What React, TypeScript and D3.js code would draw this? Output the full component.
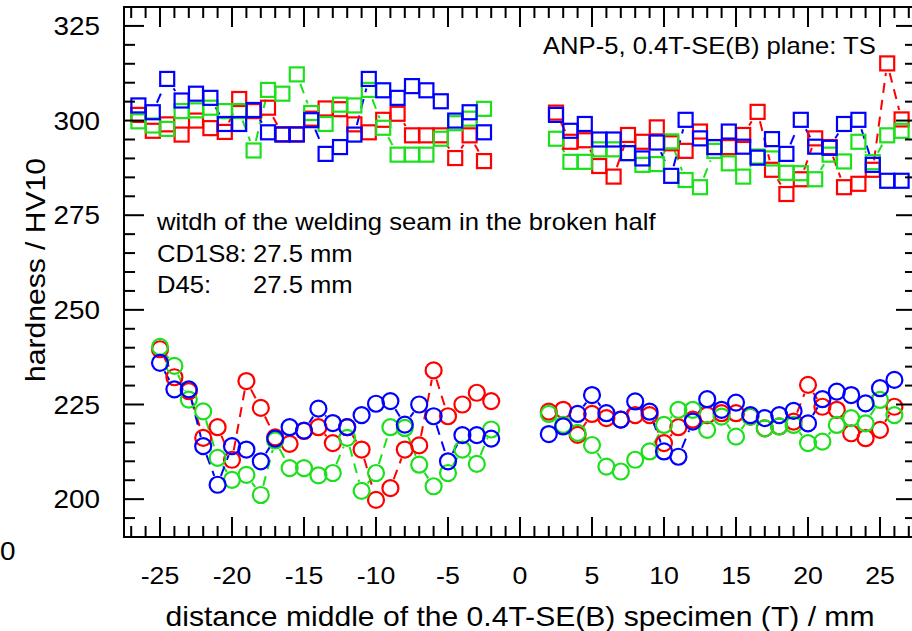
import React from "react";
import * as d3 from "d3";

// ---------- data ----------
const squareXLeft = [-26.5, -25.5, -24.5, -23.5, -22.5, -21.5, -20.5, -19.5, -18.5, -17.5, -16.5, -15.5, -14.5, -13.5, -12.5, -11.5, -10.5, -9.5, -8.5, -7.5, -6.5, -5.5, -4.5, -3.5, -2.5];
const squareXRight = [2.5, 3.5, 4.5, 5.5, 6.5, 7.5, 8.5, 9.5, 10.5, 11.5, 12.5, 13.5, 14.5, 15.5, 16.5, 17.5, 18.5, 19.5, 20.5, 21.5, 22.5, 23.5, 24.5, 25.5, 26.5];
const circleXLeft = [-25, -24, -23, -22, -21, -20, -19, -18, -17, -16, -15, -14, -13, -12, -11, -10, -9, -8, -7, -6, -5, -4, -3, -2];
const circleXRight = [2, 3, 4, 5, 6, 7, 8, 9, 10, 11, 12, 13, 14, 15, 16, 17, 18, 19, 20, 21, 22, 23, 24, 25, 26];

const redSquareLeft = [301.5, 297.3, 299, 296.3, 300, 298, 297, 305.7, 302.5, 303.4, 296.4, 296.4, 300.5, 303.2, 303, 299, 296.9, 300.2, 301.8, 296.1, 296.1, 296.1, 290.1, 296.1, 289.3];
const greenSquareLeft = [299.8, 298.7, 297.8, 302.5, 302.7, 303.4, 302.5, 302.5, 292.1, 308.1, 307.1, 312.2, 302, 299.1, 304.2, 304, 308.1, 298.1, 291, 291, 291, 295.2, 299.3, 300.5, 303.1];
const blueSquareLeft = [304, 302.2, 311, 305.3, 307.1, 306, 299.1, 299.1, 302.8, 296.9, 296.3, 296.3, 300.1, 291.2, 293, 296.3, 311, 308, 306, 309.1, 308, 305.1, 300, 302.2, 296.9];

const redSquareRight = [302.1, 294.4, 294.8, 288, 285.2, 296.2, 294.4, 298.2, 294, 292, 297.1, 293, 293, 296.2, 302.3, 287, 280.6, 284.5, 295.3, 293, 282.4, 283.3, 287, 315.1, 300.3];
const greenSquareRight = [295.2, 289.1, 289.1, 292.4, 292.4, 291.4, 288.3, 288.5, 294.5, 284.3, 282.4, 292, 288.7, 285.2, 290.5, 290, 286.2, 286.1, 284.5, 291, 289.2, 294.4, 289, 296.1, 297.3];
const blueSquareRight = [301.5, 297.3, 299.1, 295, 295, 291.4, 290, 294.2, 285.4, 300.2, 295.3, 293, 297.1, 293.1, 290.2, 295.1, 291.2, 300.2, 293.1, 292.8, 299.1, 300.2, 288.3, 284.1, 284.1];

const redCircleLeft = [239.6, 232.2, 228.5, 216.2, 219, 210.4, 231.2, 224.1, 216.3, 214.6, 218, 219, 214.8, 219, 213.1, 199.8, 202.9, 213.1, 214.2, 234, 221.9, 225, 228.1, 225.9];
const greenCircleLeft = [240.2, 235.2, 226.3, 223.2, 210.9, 205.1, 206.4, 201.1, 215.5, 208.2, 208.2, 206.3, 206.9, 216.2, 202.2, 206.9, 219, 218.8, 209.1, 203.4, 206.9, 213.1, 209.3, 218.4];
const blueCircleLeft = [236, 229, 229, 214, 203.8, 214, 213.1, 210, 216, 219, 218.1, 223.9, 220.1, 219, 222.2, 225.2, 225.9, 219.7, 225, 221.9, 210, 216.9, 216.9, 216];

const redCircleRight = [223.1, 223.6, 217, 222.5, 221.4, 221, 222.2, 222.2, 214.8, 219, 221, 222.2, 222.7, 222.7, 221.8, 218.7, 219.2, 220.5, 230.2, 224.4, 223.6, 217.4, 216.1, 218.3, 224.4];
const greenCircleRight = [222.5, 219.6, 217.5, 214.3, 208.6, 207.3, 210.4, 212.6, 219.6, 223.6, 223.6, 218.3, 221.8, 216.5, 221.8, 218.7, 219.2, 219.6, 214.8, 215.2, 219.6, 221.4, 220, 226.2, 222.2];
const blueCircleRight = [217.2, 219.2, 222.5, 227.5, 222.7, 221, 225.8, 223.1, 212.6, 211.2, 220.5, 226.4, 223.6, 225.5, 222.2, 221.4, 222.2, 223.3, 220, 226.4, 228.4, 227.5, 225.3, 229.3, 231.5];

const xTickLabels = [-25, -20, -15, -10, -5, 0, 5, 10, 15, 20, 25];
const yTickLabels = [200, 225, 250, 275, 300, 325];

const seriesNames = ["red", "green", "blue"];
const seriesColors = ["#ff0000", "#1de01d", "#0000ff"];

// ---------- layout ----------
const W = 912;
const H = 631;
const L = 124, R = 916, T = 7, B = 537;
const FONT = "'Liberation Sans', Arial, Helvetica, sans-serif";
const SX = 1.115;

type Pt = [number, number];

function gapSegments(pts: Pt[], shape: "sq" | "ci", gap: number) {
  const segs: [Pt, Pt][] = [];
  for (let i = 0; i < pts.length - 1; i++) {
    const [x1, y1] = pts[i];
    const [x2, y2] = pts[i + 1];
    const dx = x2 - x1, dy = y2 - y1;
    const d = Math.hypot(dx, dy);
    if (d === 0) continue;
    const ux = dx / d, uy = dy / d;
    const g = shape === "ci" ? gap : gap / Math.max(Math.abs(ux), Math.abs(uy));
    if (d <= 2 * g + 1) continue;
    segs.push([[x1 + ux * g, y1 + uy * g], [x2 - ux * g, y2 - uy * g]]);
  }
  return segs;
}

function Txt(props: { x: number; y: number; size: number; anchor?: string; rotate?: number; children: any }) {
  const { x, y, size, anchor = "start", rotate = 0, children } = props;
  return (
    <text
      transform={`translate(${x},${y}) rotate(${rotate}) scale(${SX},1)`}
      fontSize={size}
      fontFamily={FONT}
      textAnchor={anchor}
      fill="#000"
    >
      {children}
    </text>
  );
}

export default function App() {
  const x = d3.scaleLinear().domain([-27.5, 27.5]).range([L, R]);
  const y = d3.scaleLinear().domain([190, 330]).range([B, T]);

  const squaresL = [redSquareLeft, greenSquareLeft, blueSquareLeft];
  const squaresR = [redSquareRight, greenSquareRight, blueSquareRight];
  const circlesL = [redCircleLeft, greenCircleLeft, blueCircleLeft];
  const circlesR = [redCircleRight, greenCircleRight, blueCircleRight];

  const groups: { xs: number[]; vals: number[][]; shape: "sq" | "ci" }[] = [
    { xs: squareXLeft, vals: squaresL, shape: "sq" },
    { xs: squareXRight, vals: squaresR, shape: "sq" },
    { xs: circleXLeft, vals: circlesL, shape: "ci" },
    { xs: circleXRight, vals: circlesR, shape: "ci" },
  ];

  const xMinor = d3.range(-27, 28, 1);
  const yMinor = d3.range(190, 331, 5);
  const MAJ = 20, MIN = 11;

  const lines: any[] = [];
  const markers: any[] = [];
  seriesNames.forEach((name, si) => {
    const col = seriesColors[si];
    groups.forEach((g, gi) => {
      const pts: Pt[] = g.xs.map((xv, i) => [x(xv), y(g.vals[si][i])]);
      const segs = gapSegments(pts, g.shape, 9.5);
      segs.forEach((s, k) => {
        lines.push(
          <line key={`l-${name}-${gi}-${k}`} x1={s[0][0]} y1={s[0][1]} x2={s[1][0]} y2={s[1][1]}
            stroke={col} strokeWidth={2} strokeDasharray="10,7" />
        );
      });
    });
  });
  seriesNames.forEach((name, si) => {
    const col = seriesColors[si];
    groups.forEach((g, gi) => {
      g.xs.forEach((xv, i) => {
        const cx = x(xv), cy = y(g.vals[si][i]);
        if (g.shape === "sq") {
          markers.push(<rect key={`m-${name}-${gi}-${i}`} x={cx - 7} y={cy - 7} width={14} height={14}
            fill="none" stroke={col} strokeWidth={2.2} />);
        } else {
          markers.push(<circle key={`m-${name}-${gi}-${i}`} cx={cx} cy={cy} r={8}
            fill="none" stroke={col} strokeWidth={2.2} />);
        }
      });
    });
  });

  return (
    <svg width={W} height={H} style={{ position: "absolute", left: 0, top: 0, background: "#fff" }}>
      <defs>
        <clipPath id="plotclip">
          <rect x={L} y={T} width={R - L} height={B - T} />
        </clipPath>
      </defs>
      <rect x={0} y={0} width={W} height={H} fill="#fff" />
      <g clipPath="url(#plotclip)">
        {lines}
        {markers}
      </g>
      {/* ticks */}
      <g stroke="#000" strokeWidth={2}>
        {xMinor.map((v) => {
          const len = xTickLabels.includes(v) ? MAJ : MIN;
          return (
            <g key={`xt${v}`}>
              <line x1={x(v)} x2={x(v)} y1={B} y2={B - len} />
              <line x1={x(v)} x2={x(v)} y1={T} y2={T + len} />
            </g>
          );
        })}
        {yMinor.map((v) => {
          const len = yTickLabels.includes(v) ? MAJ : MIN;
          return (
            <g key={`yt${v}`}>
              <line x1={L} x2={L + len} y1={y(v)} y2={y(v)} />
              <line x1={R} x2={R - len} y1={y(v)} y2={y(v)} />
            </g>
          );
        })}
      </g>
      <rect x={L} y={T} width={R - L} height={B - T} fill="none" stroke="#000" strokeWidth={2} />
      {/* tick labels */}
      {xTickLabels.map((v) => (
        <Txt key={`xl${v}`} x={x(v)} y={584} size={24} anchor="middle">{String(v)}</Txt>
      ))}
      {yTickLabels.map((v) => (
        <Txt key={`yl${v}`} x={100} y={y(v) + 9} size={25} anchor="end">{String(v)}</Txt>
      ))}
      {/* titles */}
      <Txt x={520} y={626} size={27} anchor="middle">distance middle of the 0.4T-SE(B) specimen (T) / mm</Txt>
      <Txt x={45} y={270} size={27} anchor="middle" rotate={-90}>hardness / HV10</Txt>
      {/* annotations */}
      <Txt x={543} y={53.5} size={23}>ANP-5, 0.4T-SE(B) plane: TS</Txt>
      <Txt x={157} y={230} size={23}>witdh of the welding seam in the broken half</Txt>
      <Txt x={157} y={262} size={23}>CD1S8:</Txt>
      <Txt x={253} y={262} size={23}>27.5 mm</Txt>
      <Txt x={157} y={293} size={23}>D45:</Txt>
      <Txt x={253} y={293} size={23}>27.5 mm</Txt>
      <Txt x={0} y={560} size={25} anchor="start">0</Txt>
    </svg>
  );
}
